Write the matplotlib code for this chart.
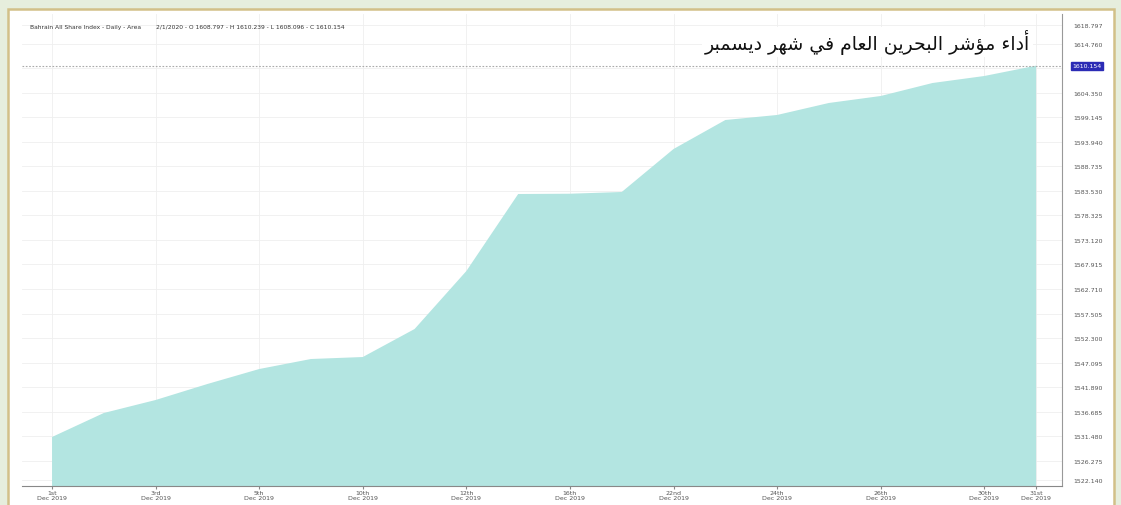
import matplotlib.pyplot as plt
import matplotlib.patches as mpatches
import matplotlib.transforms as mtransforms
import numpy as np

# daily closes, Bahrain All Share Index, December 2019
closes = [1531.27, 1536.37, 1539.13, 1542.53, 1545.71, 1547.84, 1548.26, 1554.21,
          1566.53, 1582.89, 1582.95, 1583.32, 1592.45, 1598.61, 1599.68, 1602.23,
          1603.71, 1606.47, 1607.96, 1610.154]
date_labels = ["1st", "3rd", "5th", "10th", "12th", "16th", "22nd", "24th", "26th", "30th", "31st"]
date_pos = [0, 2, 4, 6, 8, 10, 12, 14, 16, 18, 19]
y_ticks = [1526.275, 1531.480, 1536.685, 1541.890, 1547.095, 1552.300, 1557.505, 1562.710,
           1567.915, 1573.120, 1578.325, 1583.530, 1588.735, 1593.940, 1599.145, 1604.350,
           1609.555, 1614.760]
y_edge_ticks = [1522.140, 1618.797]
last_close = 1610.154
header = ("Bahrain All Share Index - Daily - Area        2/1/2020 - O 1608.797 - "
          "H 1610.239 - L 1608.096 - C 1610.154")
title_ar = "أداء مؤشر البحرين العام في شهر ديسمبر"

# minimal arabic shaping (presentation forms B) since matplotlib has no shaper
FORMS = {
    '\u0621': ('\uFE80', None, None, None),
    '\u0623': ('\uFE83', '\uFE84', None, None),
    '\u0624': ('\uFE85', '\uFE86', None, None),
    '\u0627': ('\uFE8D', '\uFE8E', None, None),
    '\u0628': ('\uFE8F', '\uFE90', '\uFE91', '\uFE92'),
    '\u062D': ('\uFEA1', '\uFEA2', '\uFEA3', '\uFEA4'),
    '\u062F': ('\uFEA9', '\uFEAA', None, None),
    '\u0631': ('\uFEAD', '\uFEAE', None, None),
    '\u0633': ('\uFEB1', '\uFEB2', '\uFEB3', '\uFEB4'),
    '\u0634': ('\uFEB5', '\uFEB6', '\uFEB7', '\uFEB8'),
    '\u0639': ('\uFEC9', '\uFECA', '\uFECB', '\uFECC'),
    '\u0641': ('\uFED1', '\uFED2', '\uFED3', '\uFED4'),
    '\u0644': ('\uFEDD', '\uFEDE', '\uFEDF', '\uFEE0'),
    '\u0645': ('\uFEE1', '\uFEE2', '\uFEE3', '\uFEE4'),
    '\u0646': ('\uFEE5', '\uFEE6', '\uFEE7', '\uFEE8'),
    '\u0647': ('\uFEE9', '\uFEEA', '\uFEEB', '\uFEEC'),
    '\u064A': ('\uFEF1', '\uFEF2', '\uFEF3', '\uFEF4'),
}


def dual(c):
    return c in FORMS and FORMS[c][2] is not None


def shape(s):
    out = []
    for i, c in enumerate(s):
        if c not in FORMS:
            out.append(c)
            continue
        prev = s[i - 1] if i > 0 else ''
        nxt = s[i + 1] if i + 1 < len(s) else ''
        jp = dual(prev)
        jn = dual(c) and nxt in FORMS
        f = FORMS[c]
        if jp and jn:
            out.append(f[3])
        elif jp:
            out.append(f[1] or f[0])
        elif jn:
            out.append(f[2])
        else:
            out.append(f[0])
    return ''.join(out)[::-1]


W, H = 1121, 506
fig = plt.figure(figsize=(W / 100, H / 100), dpi=100)
fig.patch.set_facecolor('#e6eedd')
fig.patches.append(mpatches.Rectangle((8 / W, -0.05), (1114 - 8) / W, 1.05 - 10 / H,
                                      transform=fig.transFigure, facecolor='white',
                                      edgecolor='#d2c088', lw=1.8, zorder=-10))

ax = fig.add_axes([22 / W, 1 - 487 / H, (1062 - 22) / W, (487 - 15) / H])
ax.set_zorder(5)
ax.set_facecolor('white')
x = np.arange(len(closes))
ax.fill_between(x, closes, 1500, color='#b3e5e1', lw=0, zorder=2)
ax.set_xlim(-0.58, 19.5)
ax.set_ylim(1520.86, 1621.13)

ax.yaxis.tick_right()
ax.set_yticks(y_ticks + y_edge_ticks)
ax.set_yticklabels([f"{v:.3f}" for v in y_ticks + y_edge_ticks], fontsize=4.5, color='#555555')
ax.tick_params(axis='y', length=0, pad=8)
ax.set_xticks(date_pos)
ax.set_xticklabels([d + "\nDec 2019" for d in date_labels], fontsize=4.5, color='#555555',
                   linespacing=0.9)
ax.tick_params(axis='x', length=2, pad=1, color='#888888')
ax.grid(True, color='#efefef', lw=0.6, zorder=0)
for s in ['top', 'left']:
    ax.spines[s].set_visible(False)
ax.spines['right'].set_color('#999999')
ax.spines['bottom'].set_color('#888888')
ax.spines['right'].set_linewidth(0.8)

ax.axhline(last_close, color='#aaaaaa', lw=0.8, ls=(0, (1.5, 1.5)), zorder=3)
trans = mtransforms.blended_transform_factory(ax.transAxes, ax.transData)
ax.text(1.0 + 25 / 1040, last_close, f"{last_close:.3f}", transform=trans, ha='center',
        va='center', fontsize=4.5, color='white',
        bbox=dict(boxstyle='square,pad=0.25', fc='#2b2bb5', ec='#2b2bb5'))

ax.text(8 / 1040, 1 - 13 / 472, header, transform=ax.transAxes, fontsize=4.3,
        color='#333333', va='center')
ax.text(1008 / 1040, 1 - 28 / 472, shape(title_ar), transform=ax.transAxes, fontsize=13.6,
        color='#111111', ha='right', va='center', family='DejaVu Sans', zorder=6,
        bbox=dict(fc='white', ec='none', pad=2))

fig.savefig('out.png', dpi=100, facecolor=fig.get_facecolor())
